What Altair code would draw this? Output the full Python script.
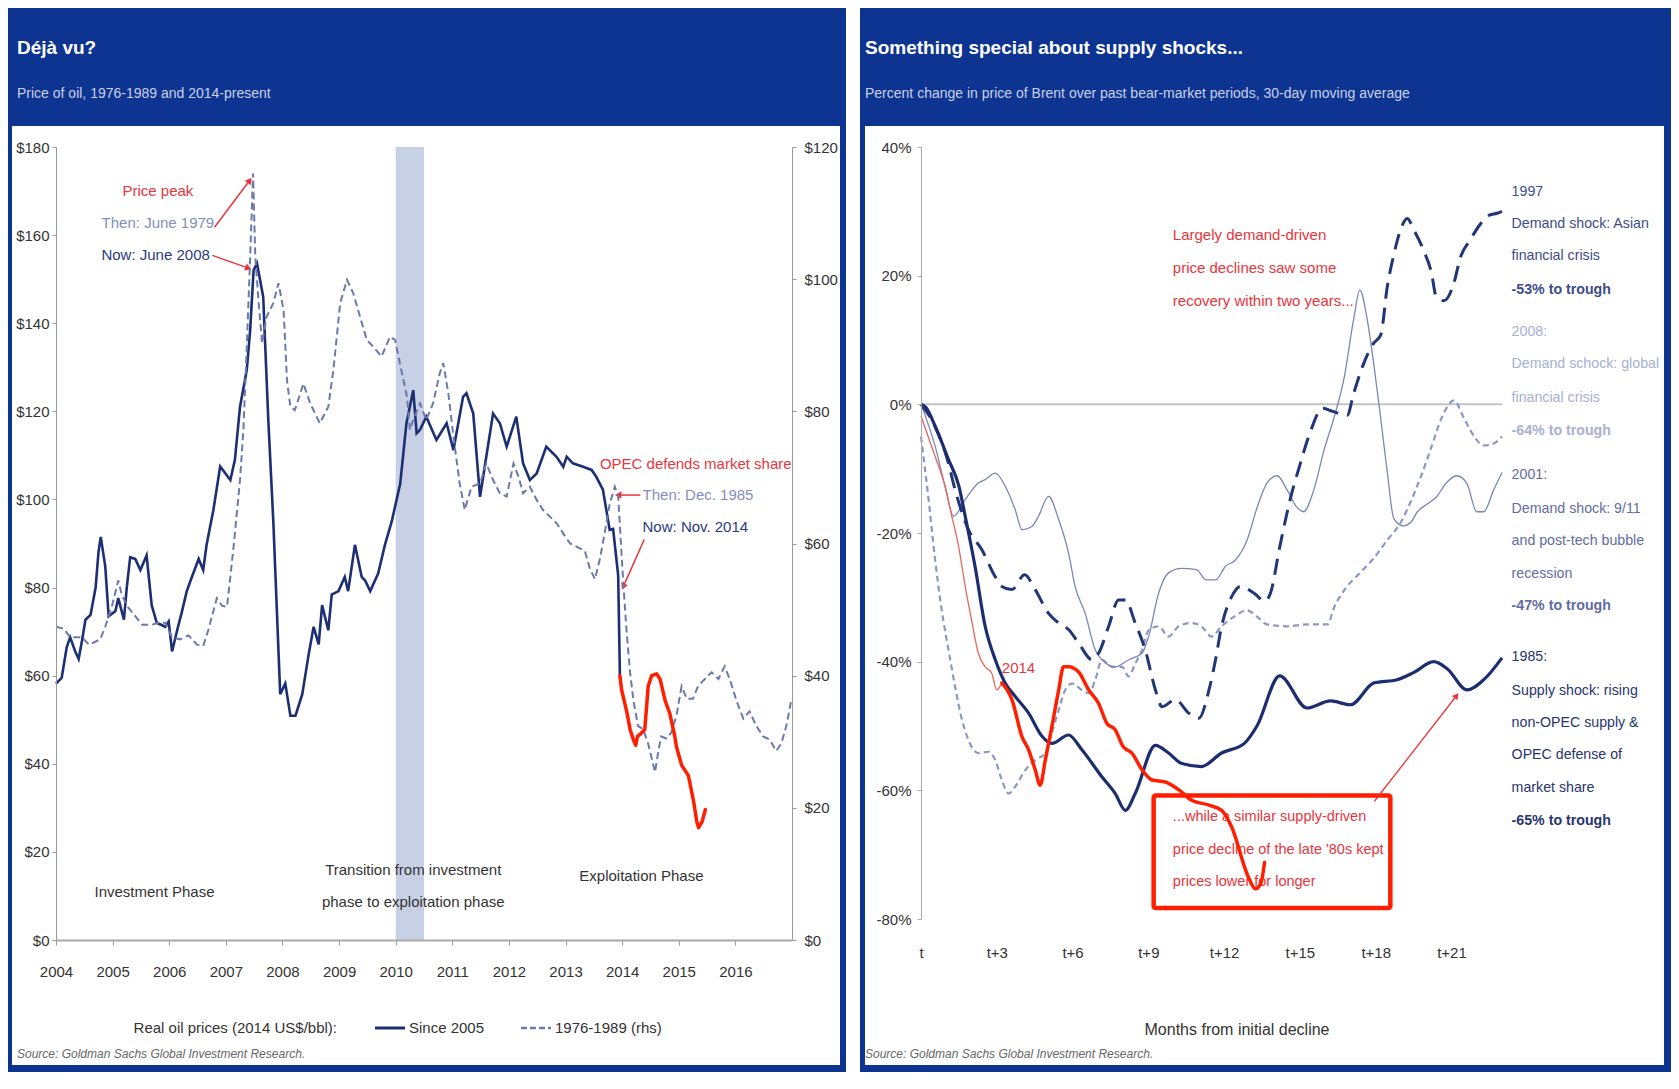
import math
import altair as alt
import pandas as pd

# ---------------- LEFT PANEL DATA ----------------
SOLID_YEAR = [2004.0, 2004.1, 2004.19, 2004.25, 2004.34, 2004.4, 2004.46, 2004.52, 2004.61, 2004.7, 2004.75,
              2004.79, 2004.87, 2004.93, 2005.05, 2005.1, 2005.2, 2005.25, 2005.31, 2005.4, 2005.49, 2005.6,
              2005.69, 2005.78, 2005.93, 2005.99, 2006.05, 2006.14, 2006.22, 2006.31, 2006.4, 2006.52, 2006.6,
              2006.66, 2006.78, 2006.9, 2007.08, 2007.16, 2007.25, 2007.37, 2007.43, 2007.49, 2007.55, 2007.66,
              2007.75, 2007.84, 2007.87, 2007.96, 2008.05, 2008.14, 2008.23, 2008.35, 2008.46, 2008.55, 2008.64,
              2008.7, 2008.81, 2008.87, 2008.99, 2009.1, 2009.16, 2009.28, 2009.4, 2009.46, 2009.55, 2009.69,
              2009.81, 2009.93, 2010.08, 2010.19, 2010.31, 2010.37, 2010.43, 2010.54, 2010.72, 2010.9, 2011.02,
              2011.19, 2011.25, 2011.37, 2011.49, 2011.6, 2011.72, 2011.84, 2011.96, 2012.13, 2012.25, 2012.37,
              2012.49, 2012.66, 2012.84, 2012.96, 2013.02, 2013.13, 2013.31, 2013.46, 2013.54, 2013.66, 2013.78,
              2013.84, 2013.93, 2013.96]
SOLID_PRICE = [58.2, 59.5, 66.5, 68.7, 65.5, 63.8, 68.0, 72.7, 73.8, 80.0, 88.0,
               91.5, 84.8, 73.5, 74.7, 77.6, 72.7, 80.0, 86.9, 86.5, 84.0, 87.3,
               76.0, 72.0, 71.1, 72.3, 65.5, 70.3, 74.3, 79.2, 82.4, 86.5, 84.0,
               89.7, 97.6, 107.5, 104.4, 109.0, 121.0, 129.4, 138.5, 152.0, 153.6, 146.0,
               118.0, 94.6, 84.8, 55.8, 58.2, 50.9, 50.9, 55.8, 64.6, 71.1, 67.1,
               76.0, 70.3, 78.4, 79.2, 82.4, 79.2, 89.7, 82.4, 81.6, 79.2, 83.2,
               89.7, 95.0, 103.6, 117.3, 124.8, 115.0, 115.8, 118.8, 113.5, 117.3, 111.2,
               123.3, 124.1, 119.5, 100.6, 109.7, 119.5, 117.3, 112.0, 118.8, 108.2, 104.4,
               105.9, 112.0, 109.7, 107.4, 109.7, 108.2, 107.4, 106.7, 105.2, 102.2, 93.1,
               93.3, 82.7, 60.0]

RHS_YEAR = [2004.0, 2004.14, 2004.25, 2004.37, 2004.46, 2004.58, 2004.66, 2004.78, 2004.87, 2004.99, 2005.1,
            2005.16, 2005.25, 2005.4, 2005.52, 2005.69, 2005.81, 2005.93, 2006.05, 2006.19, 2006.34, 2006.49,
            2006.6, 2006.69, 2006.84, 2006.93, 2007.02, 2007.08, 2007.14, 2007.25, 2007.31, 2007.37, 2007.43,
            2007.48, 2007.52, 2007.58, 2007.64, 2007.72, 2007.84, 2007.93, 2008.02, 2008.08, 2008.14, 2008.22,
            2008.37, 2008.49, 2008.66, 2008.81, 2008.9, 2009.02, 2009.14, 2009.25, 2009.37, 2009.49, 2009.6,
            2009.75, 2009.9, 2009.99, 2010.08, 2010.2, 2010.25, 2010.31, 2010.43, 2010.54, 2010.66, 2010.78,
            2010.84, 2010.93, 2011.02, 2011.13, 2011.22, 2011.34, 2011.49, 2011.6, 2011.72, 2011.84, 2011.96,
            2012.08, 2012.17, 2012.25, 2012.37, 2012.49, 2012.6, 2012.72, 2012.84, 2012.96, 2013.08, 2013.2,
            2013.34, 2013.43, 2013.52, 2013.61, 2013.7, 2013.78, 2013.87, 2013.93, 2014.02, 2014.08, 2014.14,
            2014.2, 2014.28, 2014.37, 2014.46, 2014.55, 2014.58, 2014.64, 2014.69, 2014.78, 2014.87, 2014.96,
            2015.05, 2015.14, 2015.25, 2015.34, 2015.46, 2015.58, 2015.7, 2015.81, 2015.9, 2016.02, 2016.14,
            2016.25, 2016.37, 2016.49, 2016.61, 2016.72, 2016.81, 2016.9, 2016.98]
RHS_PRICE = [47.4, 47.1, 45.8, 45.8, 45.8, 44.7, 45.0, 45.5, 47.4, 50.6, 54.4,
             52.3, 50.6, 49.0, 47.7, 47.7, 48.0, 48.0, 45.8, 45.5, 46.1, 44.7,
             44.5, 46.9, 51.7, 50.6, 50.4, 55.0, 59.8, 69.6, 77.2, 89.8, 103.4,
             116.0, 103.4, 96.4, 90.3, 94.3, 96.4, 99.4, 95.3, 84.7, 80.7, 80.2,
             84.2, 81.2, 78.2, 80.7, 86.3, 96.4, 99.9, 97.9, 94.3, 90.8, 89.8,
             88.3, 91.3, 90.8, 87.0, 82.2, 77.2, 78.7, 81.2, 78.7, 81.2, 85.8,
             87.3, 82.7, 76.2, 69.1, 65.1, 68.6, 69.1, 72.1, 69.6, 67.6, 67.1,
             72.1, 70.1, 67.6, 68.6, 66.6, 65.1, 64.1, 63.1, 61.5, 60.0, 59.5,
             58.9, 56.2, 54.6, 57.8, 62.0, 66.0, 68.6, 67.1, 54.0, 46.5, 40.5,
             36.2, 32.4, 31.9, 29.7, 26.5, 25.4, 28.6, 30.8, 30.5, 31.4, 34.0,
             38.4, 36.5, 36.5, 38.4, 39.5, 40.5, 39.5, 41.4, 39.5, 36.2, 33.5,
             34.6, 32.4, 30.8, 30.3, 28.6, 29.7, 32.4, 36.0]

HAND_L_YEAR = [2013.96, 2013.99, 2014.08, 2014.14, 2014.2, 2014.24, 2014.27, 2014.31, 2014.4, 2014.43, 2014.46,
               2014.52, 2014.61, 2014.67, 2014.76, 2014.84, 2014.93, 2014.96, 2015.05, 2015.17, 2015.26, 2015.32,
               2015.35, 2015.41, 2015.47]
HAND_L_PRICE = [60.0, 56.8, 51.9, 47.8, 45.4, 44.2, 46.2, 46.6, 47.8, 52.7, 57.6,
                60.0, 60.4, 59.2, 54.3, 51.5, 46.2, 43.8, 39.7, 37.3, 31.6, 26.8,
                25.5, 26.8, 29.6]

BAND_START, BAND_END = [2010.0], [2010.5]
YEAR_TICKS = list(range(2004, 2017))
LEFT_TICKS = [0, 20, 40, 60, 80, 100, 120, 140, 160, 180]
RIGHT_TICKS = [0, 20, 40, 60, 80, 100, 120]

PHASE_TEXT = ["Investment Phase", "Transition from investment", "phase to exploitation phase", "Exploitation Phase"]
PHASE_X = [2005.74, 2010.31, 2010.31, 2014.34]
PHASE_Y = [10.9, 16.0, 8.7, 14.6]

# ---------------- RIGHT PANEL DATA ----------------
MONTH_TICKS = [0, 3, 6, 9, 12, 15, 18, 21]
PCT_TICKS = [-80, -60, -40, -20, 0, 20, 40]

S1985_M = [0, 0.2, 0.56, 1.09, 1.5, 1.75, 2.14, 2.54, 2.94, 3.33, 3.73, 4.26, 4.79, 5.18, 5.84, 6.37, 7.16, 7.69,
           8.09, 8.48, 9.28, 9.8, 10.3, 11.1, 11.9, 12.8, 13.3, 14.2, 15.28, 16.21, 17.0, 17.93, 18.85, 19.5,
           20.3, 20.83, 21.62, 22.28, 23.0]
S1985_P = [0, -0.5, -3.4, -8.6, -12.7, -17.4, -25.2, -34.5, -39.7, -43.3, -45.4, -48, -51.6, -52.7, -51.4, -53.7,
           -57.9, -60.5, -63.1, -60.5, -53, -54.2, -55.8, -56.3, -54.2, -52.7, -50, -42.2, -47.2, -46.1, -46.7,
           -43.3, -42.8, -41.7, -40, -41.1, -44.4, -42.8, -39.4]

S1997_M = [0, 0.5, 1.0, 1.4, 1.88, 2.41, 2.94, 3.2, 3.6, 4.1, 4.52, 5.05, 5.45, 5.84, 6.24, 6.77, 7.03, 7.43, 7.82,
           8.09, 8.48, 8.88, 9.28, 9.54, 10.07, 10.6, 11.0, 11.4, 11.66, 11.9, 12.3, 12.64, 13.2, 13.6, 13.83,
           14.2, 14.6, 15.0, 15.4, 15.9, 16.3, 16.87, 17.13, 17.5, 17.9, 18.2, 18.46, 18.72, 18.99, 19.25, 19.5,
           19.9, 20.2, 20.4, 20.7, 21.1, 21.35, 21.75, 22.1, 22.5, 22.8, 23.0]
S1997_P = [0, -3, -8, -14, -19.5, -22.6, -26.8, -28.3, -28.8, -26.5, -28.8, -32.5, -34, -35, -37.1, -39.7, -38.7,
           -34.5, -30.4, -30.4, -34, -38.2, -44.4, -47, -45.9, -48, -48.8, -44.4, -39.7, -34.5, -29.9, -28.3,
           -29.4, -30.6, -29.4, -22.2, -15, -9.4, -4.4, -0.6, -1.1, -1.7, 1.7, 6.1, 9.4, 10.8, 18.3, 23.3, 27.2,
           28.9, 27.2, 23.9, 20.6, 16.7, 16.1, 18.9, 22.8, 25.6, 27.8, 29.4, 29.7, 30]

S2001_M = [0, 0.56, 0.95, 1.29, 1.75, 2.28, 2.54, 2.94, 3.33, 3.73, 4.0, 4.39, 4.65, 5.05, 5.45, 5.84, 6.1, 6.5,
           6.9, 7.16, 7.69, 8.22, 8.75, 9.01, 9.41, 9.8, 10.3, 10.9, 11.3, 11.66, 12.05, 12.45, 12.91, 13.3, 13.7,
           14.1, 14.49, 14.9, 15.15, 15.55, 15.95, 16.34, 16.74, 17.13, 17.37, 17.66, 17.93, 18.2, 18.46, 18.72,
           19.1, 19.4, 19.65, 20.0, 20.4, 20.8, 21.2, 21.6, 22.0, 22.28, 22.67, 23.0]
S2001_P = [0, -6.5, -12.7, -17.4, -14.8, -12.2, -11.7, -10.7, -12.7, -16.4, -19.5, -19, -17.4, -14.3, -17.9,
           -23.1, -28.3, -32.5, -38.2, -39.7, -40.8, -39.7, -38.7, -36.1, -29.3, -26.2, -25.5, -25.7, -27.3,
           -27.3, -25.2, -24.2, -21.1, -16.1, -12.2, -11.1, -13.3, -16.1, -16.7, -13.3, -7.2, -2.2, 3.9, 13.3,
           17.8, 13.3, 6.1, -2.2, -10.6, -17.8, -18.9, -18.3, -16.7, -15.6, -14.4, -12.2, -11.1, -12.2, -16.7,
           -16.7, -13.3, -10.6]

S2008_M = [0, 0.3, 0.56, 0.82, 1.09, 1.35, 1.62, 1.88, 2.27, 2.67, 2.94, 3.2, 3.47, 3.73, 4.12, 4.52, 4.92, 5.18,
           5.45, 5.71, 5.98, 6.37, 6.64, 6.9, 7.16, 7.56, 7.96, 8.22, 8.48, 8.75, 9.01, 9.41, 9.8, 10.2, 10.7,
           11.1, 11.5, 11.9, 12.4, 12.9, 13.3, 13.7, 14.5, 15.3, 16.1, 16.34, 16.87, 17.4, 17.93, 18.46, 19.0,
           19.4, 19.8, 20.2, 20.6, 21.1, 21.5, 21.9, 22.28, 22.67, 23.0]
S2008_P = [-5, -14.8, -24.2, -32, -38.2, -43.9, -49, -52.2, -54.2, -54, -55.3, -58.4, -60.5, -59.4, -56.9, -55.3,
           -54.2, -51.1, -47.5, -44.4, -43.4, -44.4, -44.9, -42.8, -39.7, -40.8, -40.8, -42.3, -40.3, -38.2,
           -35.1, -34.5, -36.1, -34.5, -34, -34.5, -36.1, -34.5, -33, -32, -33, -34.2, -34.5, -34.2, -34.2,
           -31.7, -28.3, -26.1, -23.9, -21.1, -18.3, -15, -11.1, -6.7, -2.2, 0.6, -2.2, -5, -6.4, -6.1, -5]

S2014_M = [0, 0.56, 0.95, 1.22, 1.49, 1.75, 2.0, 2.27, 2.54, 2.8, 3.0, 3.2]
S2014_P = [-1.8, -8.1, -12.7, -17.4, -22.1, -28.3, -33.5, -38.7, -40.8, -41.8, -44.4, -43.3]

HAND_R_M = [3.2, 3.6, 4.0, 4.26, 4.52, 4.72, 4.92, 5.18, 5.45, 5.64, 5.84, 6.24, 6.64, 7.03, 7.36, 7.69, 8.0,
            8.35, 8.75, 9.15, 9.67, 10.2, 10.7, 11.4, 11.9, 12.3, 12.94, 13.24, 13.45, 13.6]
HAND_R_P = [-43.3, -45.9, -51.7, -53.7, -56.8, -59.2, -55.3, -50.1, -44.4, -40.8, -40.8, -41.6, -44.4, -46.5,
            -49.6, -50.6, -53.2, -54.2, -56.8, -58.4, -58.7, -59.9, -61.5, -62.3, -63.1, -65.7, -73.3, -75.3,
            -74.5, -71.2]

SIDE_TEXT = ["1997", "Demand shock: Asian", "financial crisis", "-53% to trough",
             "2008:", "Demand schock: global", "financial crisis", "-64% to trough",
             "2001:", "Demand shock: 9/11", "and post-tech bubble", "recession", "-47% to trough",
             "1985:", "Supply shock: rising", "non-OPEC supply &", "OPEC defense of", "market share",
             "-65% to trough"]
SIDE_Y = [33, 28, 23, 17.8, 11.3, 6.2, 1, -4.2, -11, -16.2, -21.2, -26.3, -31.3,
          -39.2, -44.5, -49.5, -54.5, -59.7, -64.8]
SIDE_GROUP = ["1997"] * 4 + ["2008"] * 4 + ["2001"] * 5 + ["1985"] * 6
SIDE_BOLD = [0, 0, 0, 1, 0, 0, 0, 1, 0, 0, 0, 0, 1, 0, 0, 0, 0, 0, 1]

TOP_NOTE = ["Largely demand-driven", "price declines saw some", "recovery within two years..."]
TOP_NOTE_Y = [26.3, 21.2, 16.0]
BOX_NOTE = ["...while a similar supply-driven", "price decline of the late '80s kept", "prices lower for longer"]
BOX_NOTE_Y = [-64.2, -69.3, -74.3]
BOX_X, BOX_X2, BOX_Y, BOX_Y2 = [9.21], [18.58], [-60.8], [-78.3]

# ---------------- STYLE ----------------
FONT = "Liberation Sans, Arial, sans-serif"
HEADER = "#0e3492"
NAVY = "#1d2f73"
RED = "#e8353c"
HAND = "#ff1f00"
THEN_C = "#8190bb"
NOW_C = "#2a3b7e"
TXT = "#333333"
ONE = pd.DataFrame({"k": [0]})
FS = 15

WL, HL = 736, 793
WR, HR = 581, 772


def ptext(txt, x, y, **kw):
    opts = dict(font=FONT, baseline="middle", fontSize=FS, color=TXT)
    opts.update(kw)
    return alt.Chart(ONE).mark_text(text=txt, **opts).encode(x=alt.value(x), y=alt.value(y))


def prect(x, x2, y, y2, color):
    return alt.Chart(ONE).mark_rect(color=color).encode(
        x=alt.value(x), x2=alt.value(x2), y=alt.value(y), y2=alt.value(y2))


def arrow(x1, y1, x2, y2, X, Y, sx, sy, color, width=1.5, size=55):
    df = pd.DataFrame({"x": [x1, x2], "y": [y1, y2], "o": [0, 1]})
    line = alt.Chart(df).mark_line(color=color, strokeWidth=width).encode(x=X, y=Y, order="o:Q")
    dx = (x2 - x1) * sx
    dys = -(y2 - y1) * sy
    ang = math.degrees(math.atan2(dx, -dys)) % 360
    head = alt.Chart(pd.DataFrame({"x": [x2], "y": [y2]})).mark_point(
        shape="triangle-up", filled=True, size=size, angle=ang, color=color, opacity=1
    ).encode(x=X, y=Y)
    return [line, head]


AX = dict(title=None, grid=False, labelFont=FONT, labelFontSize=FS, labelColor=TXT, labelFlush=False, zindex=1)

# ---------------- LEFT PANEL ----------------
xL = alt.X("x:Q", scale=alt.Scale(domain=[2004, 2017], nice=False, zero=False),
           axis=alt.Axis(values=YEAR_TICKS, format="d", labelPadding=19, tickSize=5, tickColor="#999",
                         domainColor="#aaaaaa", domainWidth=2, **AX))
yL = alt.Y("y:Q", scale=alt.Scale(domain=[0, 180], nice=False, zero=True),
           axis=alt.Axis(values=LEFT_TICKS, labelExpr="'$' + datum.value", tickSize=4, tickColor="#999",
                         domainColor="#999999", labelPadding=3, **AX))
yRhs = alt.Y("y:Q", scale=alt.Scale(domain=[0, 120], nice=False, zero=True),
             axis=alt.Axis(values=RIGHT_TICKS, labelExpr="'$' + datum.value", orient="right", tickSize=4,
                           tickColor="#999", domainColor="#999999", labelPadding=8, **AX))
yHand = alt.Y("y:Q", scale=alt.Scale(domain=[0, 180], nice=False, zero=True), axis=None)

solid_df = pd.DataFrame({"x": SOLID_YEAR, "y": SOLID_PRICE})
rhs_df = pd.DataFrame({"x": RHS_YEAR, "y": RHS_PRICE})
handL_df = pd.DataFrame({"x": HAND_L_YEAR, "y": HAND_L_PRICE})
band_df = pd.DataFrame({"x": BAND_START, "x2": BAND_END})
phase_df = pd.DataFrame({"x": PHASE_X, "y": PHASE_Y, "t": PHASE_TEXT})

ann_left_df = pd.DataFrame({
    "x": [2005.8, 2005.8, 2005.76, 2015.3],
    "y": [170, 162.7, 155.4, 108],
    "t": ["Price peak", "Then: June 1979", "Now: June 2008", "OPEC defends market share"],
    "c": [RED, THEN_C, NOW_C, RED],
})
ann_left2_df = pd.DataFrame({
    "x": [2014.36, 2014.36],
    "y": [101, 93.8],
    "t": ["Then: Dec. 1985", "Now: Nov. 2014"],
    "c": [THEN_C, NOW_C],
})

LB = HL + 132  # left frame bottom (relative)
sxL, syL = WL / 13.0, HL / 180.0
left_layers = [
    prect(-48, WL + 54, -139, LB, HEADER),
    prect(-44, WL + 48, -21, LB - 7, "white"),
    alt.Chart(band_df).mark_rect(color="#c8d0e5").encode(x=xL, x2="x2:Q", y=alt.value(0), y2=alt.value(HL)),
    ptext("Déjà vu?", -39, -99, fontSize=19, fontWeight="bold", color="white", align="left"),
    ptext("Price of oil, 1976-1989 and 2014-present", -39, -53, fontSize=14, color="#c9d1ea", align="left"),
    alt.Chart(phase_df).mark_text(font=FONT, fontSize=FS, color=TXT, baseline="middle").encode(
        x=xL, y=yL, text="t:N"),
    alt.Chart(ann_left_df).mark_text(font=FONT, fontSize=FS, baseline="middle").encode(
        x=xL, y=yL, text="t:N", color=alt.Color("c:N", scale=None)),
    alt.Chart(ann_left2_df).mark_text(font=FONT, fontSize=FS, baseline="middle", align="left").encode(
        x=xL, y=yL, text="t:N", color=alt.Color("c:N", scale=None)),
    alt.Chart(solid_df).mark_line(color=NAVY, strokeWidth=2.6).encode(x=xL, y=yL),
]
left_layers += arrow(2006.8, 161.8, 2007.42, 172.4, xL, yL, sxL, syL, RED)
left_layers += arrow(2006.76, 155.4, 2007.4, 152.5, xL, yL, sxL, syL, RED)
left_layers += arrow(2014.32, 101, 2013.93, 101, xL, yL, sxL, syL, RED)
left_layers += arrow(2014.39, 90.9, 2014.02, 80.2, xL, yL, sxL, syL, RED)
left_layers += [
    ptext("Real oil prices (2014 US$/bbl):", 281, HL + 88, align="right", fontSize=FS),
    alt.Chart(ONE).mark_rule(color=NAVY, strokeWidth=3).encode(
        x=alt.value(319), x2=alt.value(349), y=alt.value(HL + 88)),
    ptext("Since 2005", 353, HL + 88, align="left", fontSize=FS),
    alt.Chart(ONE).mark_rule(color="#6b7aab", strokeWidth=2.5, strokeDash=[6, 3]).encode(
        x=alt.value(465), x2=alt.value(495), y=alt.value(HL + 88)),
    ptext("1976-1989 (rhs)", 499, HL + 88, align="left", fontSize=FS),
    ptext("Source: Goldman Sachs Global Investment Research.", -39, HL + 114, align="left",
          fontSize=12, fontStyle="italic", color="#666666"),
]
layerL = alt.layer(*left_layers)
layerRhs = alt.Chart(rhs_df).mark_line(color="#6b7aab", strokeWidth=2, strokeDash=[7, 4]).encode(x=xL, y=yRhs)
layerHand = alt.Chart(handL_df).mark_line(color=HAND, strokeWidth=3.5, strokeJoin="round",
                                          strokeCap="round").encode(x=xL, y=yHand)

left = alt.layer(layerL, layerRhs, layerHand).resolve_scale(y="independent").properties(width=WL, height=HL)

# ---------------- RIGHT PANEL ----------------
xR = alt.X("x:Q", scale=alt.Scale(domain=[0, 23], nice=False, zero=False),
           axis=alt.Axis(values=MONTH_TICKS, labelExpr="datum.value == 0 ? 't' : 't+' + datum.value",
                         domain=False, ticks=False, labelPadding=26, **AX))
yR = alt.Y("y:Q", scale=alt.Scale(domain=[-80, 40], nice=False, zero=False),
           axis=alt.Axis(values=PCT_TICKS, labelExpr="datum.value + '%'", tickSize=4, tickColor="#aaa",
                         domainColor="#aaaaaa", labelPadding=6, **AX))


def series(m, p, **kw):
    df = pd.DataFrame({"x": m, "y": p})
    return alt.Chart(df).mark_line(interpolate="monotone", **kw).encode(x=xR, y=yR)


side_df = pd.DataFrame({"x": [23.38] * len(SIDE_TEXT), "y": SIDE_Y, "t": SIDE_TEXT,
                        "g": SIDE_GROUP, "b": SIDE_BOLD})
side_colors = alt.Scale(domain=["1997", "2008", "2001", "1985"],
                        range=["#3c4d88", "#a6b1d3", "#5f6d9f", "#27356f"])
top_df = pd.DataFrame({"x": [9.97] * 3, "y": TOP_NOTE_Y, "t": TOP_NOTE})
boxnote_df = pd.DataFrame({"x": [9.97] * 3, "y": BOX_NOTE_Y, "t": BOX_NOTE})
box_df = pd.DataFrame({"x": BOX_X, "x2": BOX_X2, "y": BOX_Y, "y2": BOX_Y2})
zero_df = pd.DataFrame({"x": [0], "x2": [23], "y": [0]})
label2014_df = pd.DataFrame({"x": [3.86], "y": [-41], "t": ["2014"]})

RB = HR + 153
SFS = 14.2
sxR, syR = WR / 23.0, HR / 120.0
right_layers = [
    prect(-61, WR + 169, -139, RB, HEADER),
    prect(-56, WR + 162, -21, RB - 7, "white"),
    ptext("Something special about supply shocks...", -56, -99, fontSize=19, fontWeight="bold",
          color="white", align="left"),
    ptext("Percent change in price of Brent over past bear-market periods, 30-day moving average", -56, -53,
          fontSize=14, color="#c9d1ea", align="left"),
    alt.Chart(zero_df).mark_rule(color="#c4c4c4", strokeWidth=2).encode(x=xR, x2="x2:Q", y=yR),
    series(S2008_M, S2008_P, color="#8c98c2", strokeWidth=2.2, strokeDash=[6, 4]),
    series(S2001_M, S2001_P, color="#7a87b5", strokeWidth=1.3),
    series(S1997_M, S1997_P, color="#223577", strokeWidth=3, strokeDash=[16, 9]),
    series(S1985_M, S1985_P, color="#1c2e70", strokeWidth=3.2),
    series(S2014_M, S2014_P, color="#e8665c", strokeWidth=1.3),
    alt.Chart(label2014_df).mark_text(font=FONT, fontSize=FS, color=RED, baseline="middle").encode(
        x=xR, y=yR, text="t:N"),
    alt.Chart(top_df).mark_text(font=FONT, fontSize=FS, color=RED, baseline="middle", align="left").encode(
        x=xR, y=yR, text="t:N"),
    alt.Chart(boxnote_df).mark_text(font=FONT, fontSize=14.5, color=RED, baseline="middle",
                                    align="left").encode(x=xR, y=yR, text="t:N"),
    alt.Chart(box_df).mark_rect(fillOpacity=0, stroke=HAND, strokeWidth=4.5, cornerRadius=2).encode(
        x=xR, x2="x2:Q", y=yR, y2="y2:Q"),
    alt.Chart(side_df).transform_filter("datum.b == 0").mark_text(
        font=FONT, fontSize=SFS, baseline="middle", align="left").encode(
        x=xR, y=yR, text="t:N", color=alt.Color("g:N", scale=side_colors, legend=None)),
    alt.Chart(side_df).transform_filter("datum.b == 1").mark_text(
        font=FONT, fontSize=SFS, fontWeight="bold", baseline="middle", align="left").encode(
        x=xR, y=yR, text="t:N", color=alt.Color("g:N", scale=side_colors, legend=None)),
]
right_layers += arrow(17.95, -61.7, 21.2, -45.3, xR, yR, sxR, syR, RED, width=1.3, size=50)
right_layers += [
    series(HAND_R_M, HAND_R_P, color=HAND, strokeWidth=3.5, strokeJoin="round", strokeCap="round"),
    ptext("Months from initial decline", 316, HR + 111, align="center", fontSize=16),
    ptext("Source: Goldman Sachs Global Investment Research.", -56, HR + 135, align="left",
          fontSize=12, fontStyle="italic", color="#666666"),
]
right = alt.layer(*right_layers).properties(width=WR, height=HR)

chart = alt.hconcat(left, right, spacing=14).properties(
    padding={"left": 0, "top": 0, "right": 0, "bottom": 0}
).configure_view(strokeWidth=0)

chart.save("out.html", embed_options={"renderer": "svg", "actions": False})
